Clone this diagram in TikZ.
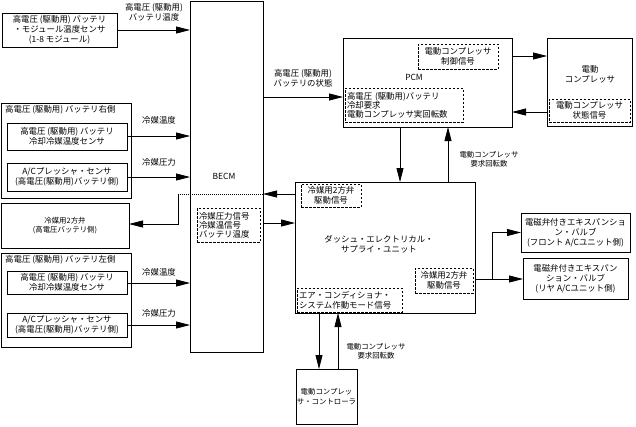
\documentclass[tikz,border=0pt]{standalone}
\usepackage{fontspec}
\setmainfont{Noto Sans CJK JP}
\usetikzlibrary{arrows.meta,calc}
\tikzset{
  bx/.style={draw, line width=0.9pt, inner sep=0pt, outer sep=0pt, align=center, font=\fontsize{8.4}{10}\selectfont},
  dbx/.style={bx, dash pattern=on 2.5pt off 1.5pt, line width=0.6pt},
  arr/.style={line width=0.8pt, -{Triangle[length=14pt,width=7pt]}},
  ln/.style={line width=0.8pt},
  lbl/.style={inner sep=0pt, align=center, font=\fontsize{8.4}{10}\selectfont},
  small/.style={font=\fontsize{7.4}{9.5}\selectfont},
}
\newcommand\bx[7]{\node[#1, minimum width={(#5)-(#3)}, minimum height={(#6)-(#4)}] (#2) at ({((#3)+(#5))/2},{((#4)+(#6))/2}) {#7};}
\begin{document}
\begin{tikzpicture}[x=1pt,y=-1pt]
\useasboundingbox (0,0) rectangle (636,426);
% main boxes
\bx{bx}{modsens}{2}{13}{117}{47}{高電圧 (駆動用) バッテリ\\・モジュール温度センサ\\(1-8 モジュール)}
\bx{bx}{becm}{190}{1}{263}{352}{}
\node[lbl] (becmlbl) at (224,176) {BECM};
\bx{bx}{pcm}{343}{38}{512}{127}{}
\node[lbl] (pcmlbl) at (414,77) {PCM};
\bx{dbx}{pcmctl}{418}{44}{498}{69}{電動コンプレッサ\\制御信号}
\bx{dbx,text width=114pt,align=left,font=\fontsize{8.4}{9}\selectfont}{pcmreq}{345}{88}{463}{122}{高電圧 (駆動用)バッテリ\\冷却要求\\電動コンプレッサ実回転数}
\bx{bx}{comp}{547}{38}{632}{126}{}
\node[lbl] (complbl) at (590,74) {電動\\コンプレッサ};
\bx{dbx}{compst}{549}{99}{630}{122}{電動コンプレッサ\\状態信号}
\bx{bx}{desu}{295}{182}{475}{313}{}
\node[lbl] (desulbl) at (379,244) {ダッシュ・エレクトリカル・\\サプライ・ユニット};
\bx{dbx}{desuv1}{301}{184}{361}{207}{冷媒用2方弁\\駆動信号}
\bx{dbx}{desuv2}{415}{268}{473}{293}{冷媒用2方弁\\駆動信号}
\bx{dbx,text width=101pt,align=left}{desuac}{297}{288}{402}{312}{エア・コンディショナ・\\システム作動モード信号}
\bx{dbx,text width=59pt,align=left,font=\fontsize{8.4}{9}\selectfont}{becmsig}{197}{208}{260}{242}{冷媒圧力信号\\冷媒温信号\\バッテリ温度}
% right battery group
\bx{bx}{rgroup}{1}{103}{131}{198}{}
\node[lbl,anchor=west] (rtitle) at (5,110) {高電圧 (駆動用) バッテリ右側};
\bx{bx}{rtemp}{7}{123}{127}{150}{高電圧 (駆動用) バッテリ\\冷却冷媒温度センサ}
\bx{bx}{rpress}{7}{163}{127}{191}{A/Cプレッシャ・センサ\\(高電圧(駆動用)バッテリ側)}
\bx{bx,small}{valve}{1}{203}{129}{248}{冷媒用2方弁\\(高電圧バッテリ側)}
% left battery group
\bx{bx}{lgroup}{1}{253}{131}{347}{}
\node[lbl,anchor=west] (ltitle) at (5,260) {高電圧 (駆動用) バッテリ左側};
\bx{bx}{ltemp}{7}{271}{127}{294}{高電圧 (駆動用) バッテリ\\冷却冷媒温度センサ}
\bx{bx}{lpress}{7}{313}{127}{337}{A/Cプレッシャ・センサ\\(高電圧(駆動用)バッテリ側)}
% valves
\bx{bx}{frontv}{521}{213}{630}{252}{電磁弁付きエキスパンショ\\ン・バルブ\\(フロント A/Cユニット側)}
\bx{bx}{rearv}{523}{258}{628}{299}{電磁弁付きエキスパン\\ション・バルブ\\(リヤ A/Cユニット側)}
% controller
\bx{bx,small}{ctrl}{296}{369}{357}{424}{電動コンプレッ\\サ・コントローラ}
% labels
\node[lbl] (l1) at (154,12) {高電圧 (駆動用)\\バッテリ温度};
\node[lbl] (l2) at (303,78) {高電圧 (駆動用)\\バッテリの状態};
\node[lbl] (l3) at (159,120) {冷媒温度};
\node[lbl] (l4) at (159,162) {冷媒圧力};
\node[lbl] (l5) at (159,272) {冷媒温度};
\node[lbl] (l6) at (159,313) {冷媒圧力};
\node[lbl,small] (l7) at (489,159) {電動コンプレッサ\\要求回転数};
\node[lbl,small] (l8) at (376,351) {電動コンプレッサ\\要求回転数};
% junction coordinates
\coordinate (j1) at (178,194);
\coordinate (j2) at (178,224);
\coordinate (sp) at (492,279);
% connectors
\draw[arr] (modsens.east) -- (modsens.east -| becm.west);
\draw[arr] (becm.east |- 0,97) -- (pcm.west |- 0,97);
\draw[arr] (pcm.east |- 0,56) -- (comp.west |- 0,56);
\draw[arr] (comp.west |- 0,112) -- (pcm.east |- 0,112);
\draw[arr] (pcm.south -| 400,0) -- (desu.north -| 400,0);
\draw[arr] (desu.north -| 448,0) -- (pcm.south -| 448,0);
\draw[arr] (rtemp.east |- 0,136) -- (becm.west |- 0,136);
\draw[arr] (rpress.east |- 0,177) -- (becm.west |- 0,177);
\draw[arr] (ltemp.east |- 0,283) -- (becm.west |- 0,283);
\draw[arr] (lpress.east |- 0,325) -- (becm.west |- 0,325);
\draw[arr] (becm.east |- 0,223) -- (desu.west |- 0,223);
\draw[arr] (desu.west |- j1) -- (becm.east |- j1);
\draw[line width=0.6pt, dash pattern=on 1pt off 1pt] (becm.east |- j1) -- (j1);
\draw[arr] (j1) -- (j2) -- (valve.east |- j2);
\draw[ln] (desu.east |- sp) -- (sp);
\draw[arr] (sp) |- (frontv.west);
\draw[arr] (sp) -- (sp -| rearv.west);
\draw[arr] (desu.south -| 319,0) -- (ctrl.north -| 319,0);
\draw[arr] (ctrl.north -| 338,0) -- (desu.south -| 338,0);
\end{tikzpicture}
\end{document}
